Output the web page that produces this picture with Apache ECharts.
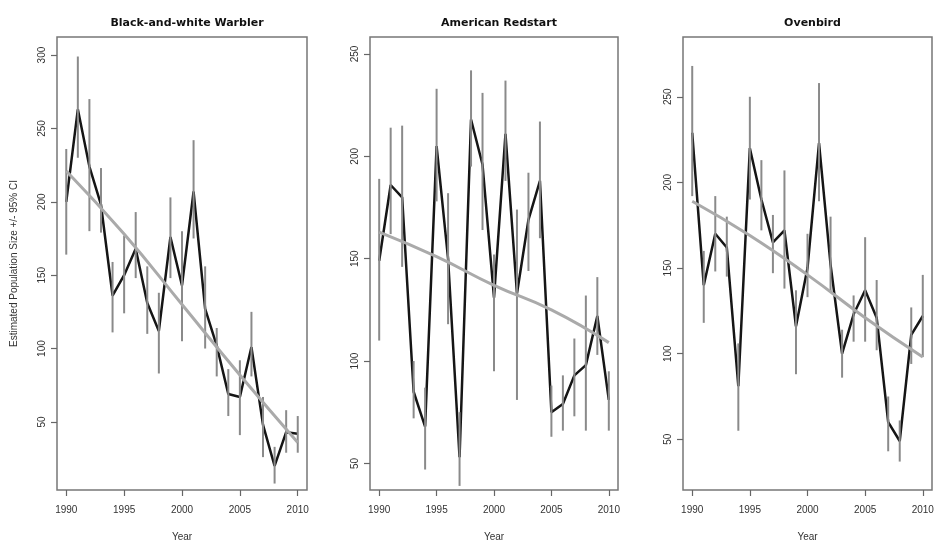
<!DOCTYPE html>
<html>
<head>
<meta charset="utf-8">
<script src="https://cdn.jsdelivr.net/npm/echarts@6/dist/echarts.min.js"></script>
<style>
  html, body { margin: 0; padding: 0; background: #fff; }
  #g-echart { width: 935px; height: 541px; }
</style>
</head>
<body>
<div id="g-echart"></div>
<script>
var years = [1990, 1991, 1992, 1993, 1994, 1995, 1996, 1997, 1998, 1999, 2000,
             2001, 2002, 2003, 2004, 2005, 2006, 2007, 2008, 2009, 2010];
var xTicks = [1990, 1995, 2000, 2005, 2010];
var trendYears = [1990, 1995, 2000, 2005, 2010];

// Black-and-white Warbler
var bwwEst = [200, 263, 224, 198, 136, 150, 168, 131, 112, 176, 143, 207, 127, 102, 69, 67, 101, 48, 20, 43, 42];
var bwwLo  = [164, 230, 180, 179, 111, 124, 148, 110, 83, 148, 105, 175, 100, 81, 54, 41, 81, 26, 8, 29, 29];
var bwwHi  = [236, 299, 270, 223, 159, 177, 193, 156, 138, 203, 180, 242, 156, 114, 86, 92, 125, 67, 33, 58, 54];
var bwwTrend = [221, 178, 130, 82, 36];
var bwwTicks = [50, 100, 150, 200, 250, 300];

// American Redstart
var amreEst = [149, 186, 180, 85, 68, 205, 150, 53, 218, 196, 131, 211, 133, 169, 188, 75, 79, 93, 98, 122, 81];
var amreLo  = [110, 162, 146, 72, 47, 178, 118, 39, 195, 164, 95, 188, 81, 144, 160, 63, 66, 73, 66, 103, 66];
var amreHi  = [189, 214, 215, 100, 87, 233, 182, 75, 242, 231, 152, 237, 174, 192, 217, 88, 93, 111, 132, 141, 95];
var amreTrend = [163, 151, 137, 125, 109];
var amreTicks = [50, 100, 150, 200, 250];

// Ovenbird
var ovenEst = [229, 140, 170, 162, 81, 220, 190, 165, 172, 116, 150, 223, 152, 100, 123, 137, 121, 60, 49, 111, 122];
var ovenLo  = [192, 118, 148, 145, 55, 190, 172, 147, 138, 88, 133, 189, 136, 86, 107, 107, 102, 43, 37, 94, 98];
var ovenHi  = [268, 160, 192, 180, 106, 250, 213, 181, 207, 137, 170, 258, 180, 114, 134, 168, 143, 75, 61, 127, 146];
var ovenTrend = [189, 169, 146, 121, 98];
var ovenTicks = [50, 100, 150, 200, 250];

var panels = [
    {title: 'Black-and-white Warbler', est: bwwEst, lo: bwwLo, hi: bwwHi, trend: bwwTrend, ticks: bwwTicks,
     left: 57, width: 250, ymin: 3.6, ymax: 312.3, yname: 'Estimated Population Size +/- 95% CI'},
    {title: 'American Redstart', est: amreEst, lo: amreLo, hi: amreHi, trend: amreTrend, ticks: amreTicks,
     left: 370, width: 248, ymin: 37, ymax: 258.3, yname: ''},
    {title: 'Ovenbird', est: ovenEst, lo: ovenLo, hi: ovenHi, trend: ovenTrend, ticks: ovenTicks,
     left: 683, width: 249, ymin: 20.4, ymax: 284.9, yname: ''}
];

var labelFont = {color: '#333', fontSize: 10, fontFamily: 'Liberation Sans, Arial, sans-serif'};

// 误差线
function ciItem(params, api) {
    var top = api.coord([api.value(0), api.value(2)]);
    var bot = api.coord([api.value(0), api.value(1)]);
    return {
        type: 'line',
        shape: {x1: top[0], y1: top[1], x2: bot[0], y2: bot[1]},
        style: {stroke: '#8a8a8a', lineWidth: 2}
    };
}

function plain(v) {
    return String(v);
}

var grid = [], xAxis = [], yAxis = [], title = [], series = [];

panels.forEach(function (p, i) {
    grid.push({
        left: p.left, top: 37, width: p.width, height: 453,
        outerBoundsMode: 'none', containLabel: false,
        show: true, borderColor: '#777', borderWidth: 1.5, backgroundColor: 'transparent'
    });
    title.push({
        text: p.title,
        left: p.left + p.width / 2,
        top: 13,
        textAlign: 'center',
        textStyle: {fontSize: 11, fontWeight: 'bold', color: '#111', fontFamily: 'DejaVu Sans, sans-serif'}
    });
    xAxis.push({
        type: 'value', gridIndex: i, min: 1989.2, max: 2010.8,
        name: 'Year', nameLocation: 'middle', nameGap: 42,
        nameTextStyle: labelFont,
        axisLine: {show: false},
        splitLine: {show: false},
        axisTick: {show: true, length: 6, customValues: xTicks, lineStyle: {color: '#666', width: 1.2}},
        axisLabel: Object.assign({margin: 15, customValues: xTicks, formatter: plain}, labelFont)
    });
    yAxis.push({
        type: 'value', gridIndex: i, min: p.ymin, max: p.ymax,
        name: p.yname, nameLocation: 'middle', nameGap: 38,
        nameTextStyle: labelFont,
        axisLine: {show: false},
        splitLine: {show: false},
        axisTick: {show: true, length: 6, customValues: p.ticks, lineStyle: {color: '#666', width: 1.2}},
        axisLabel: Object.assign({margin: 10, rotate: 90, customValues: p.ticks, formatter: plain}, labelFont)
    });
    series.push({
        type: 'line', xAxisIndex: i, yAxisIndex: i,
        data: years.map(function (y, k) { return [y, p.est[k]]; }),
        symbol: 'none',
        lineStyle: {color: '#151515', width: 2.5},
        z: 2
    });
    series.push({
        type: 'custom', xAxisIndex: i, yAxisIndex: i,
        renderItem: ciItem,
        encode: {x: 0, y: [1, 2]},
        data: years.map(function (y, k) { return [y, p.lo[k], p.hi[k]]; }),
        z: 3
    });
    series.push({
        type: 'line', xAxisIndex: i, yAxisIndex: i,
        data: trendYears.map(function (y, k) { return [y, p.trend[k]]; }),
        symbol: 'none', smooth: true,
        lineStyle: {color: '#aaaaaa', width: 3},
        z: 4
    });
});

var mychart = echarts.init(document.getElementById('g-echart'));
mychart.setOption({
    animation: false,
    backgroundColor: '#fff',
    title: title,
    grid: grid,
    xAxis: xAxis,
    yAxis: yAxis,
    series: series
});
</script>
</body>
</html>
